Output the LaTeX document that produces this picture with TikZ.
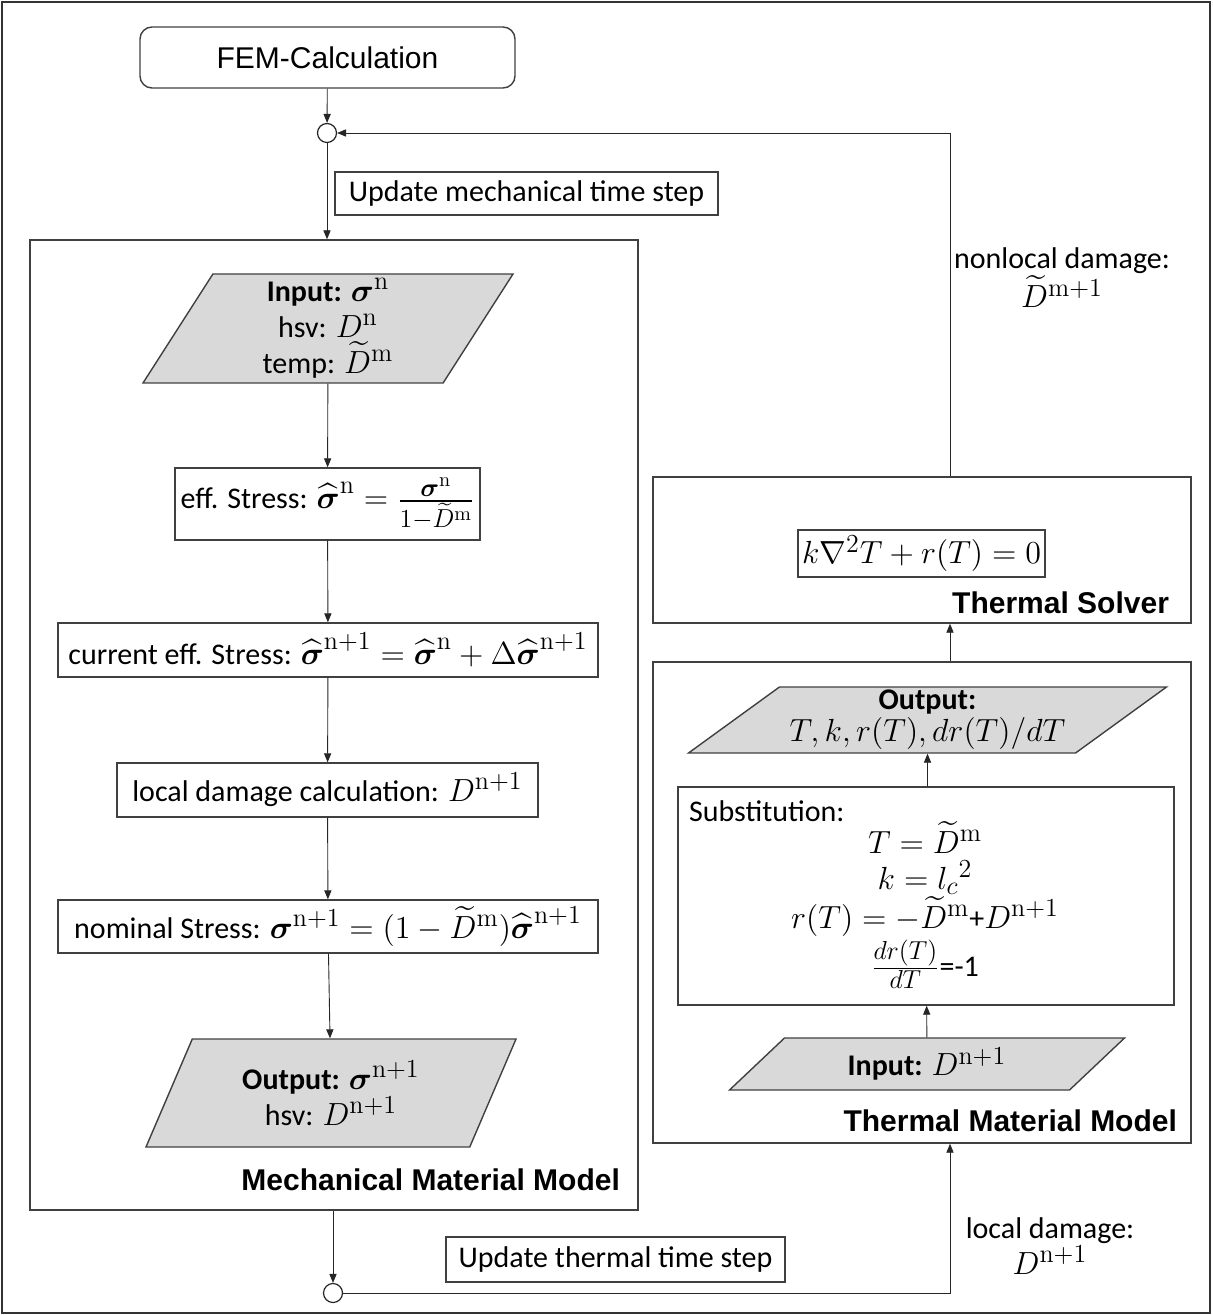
\RequirePackage{fix-cm}
\documentclass[tikz,border=0pt]{standalone}
\usepackage{amsmath}
\usepackage[no-math]{fontspec}
\setmainfont{Carlito}
\newfontfamily\arialfont{Liberation Sans}
\DeclareMathSizes{15}{16}{13}{10}
\usetikzlibrary{arrows.meta,shapes.geometric}

\tikzset{
  box/.style={draw=black!75, line width=0.7pt, inner sep=2pt, align=center},
  para/.style={trapezium, trapezium stretches body, draw=black!75, fill=black!15,
    line width=0.7pt, align=center, inner sep=1pt},
  conn/.style={draw=black!85, line width=0.45pt, -{Triangle[length=4.5pt,width=3.6pt]}},
  hub/.style={circle, draw=black!85, line width=0.6pt, minimum size=9.5pt, inner sep=0pt},
  head/.style={font=\arialfont\bfseries\fontsize{15}{17}\selectfont},
}

\begin{document}
\begin{tikzpicture}[x=0.5pt,y=-0.5pt,font=\fontsize{15}{18}\selectfont]
  \useasboundingbox (0,0) rectangle (1212,1315);
  \draw[black!80, line width=0.8pt] (2,2) rectangle (1210,1313);

  % top of the loop
  \node[box, rounded corners=6pt, minimum width=187.5pt, minimum height=30.5pt,
    font=\arialfont\fontsize{15}{17}\selectfont] (fem) at (327.5,57.5) {FEM-Calculation};
  \node[hub] (c1) at (327,133) {};
  \node[box, minimum width=191.5pt, minimum height=21.5pt] (updmech) at (526.5,193.5) {Update mechanical time step};

  % mechanical material model
  \node[box, minimum width=304pt, minimum height=485pt] (mech) at (334,725) {};
  \node[para, trapezium left angle=56, trapezium right angle=124, minimum width=185pt, minimum height=54.5pt]
    (inmech) at (328,328.5) {\textbf{Input:} $\boldsymbol{\sigma}^{\mathrm{n}}$\\ hsv: $D^{\mathrm{n}}$\\ temp: $\widetilde{D}^{\mathrm{m}}$};
  \node[box, minimum width=152.5pt, minimum height=36pt] (eff) at (327.5,504)
    {eff. Stress: $\widehat{\boldsymbol{\sigma}}^{\mathrm{n}}=\frac{\boldsymbol{\sigma}^{\mathrm{n}}}{1-\widetilde{D}^{\mathrm{m}}}$};
  \node[box, minimum width=270pt, minimum height=27pt] (cur) at (328,650)
    {current eff. Stress: $\widehat{\boldsymbol{\sigma}}^{\mathrm{n+1}}=\widehat{\boldsymbol{\sigma}}^{\mathrm{n}}+\Delta\widehat{\boldsymbol{\sigma}}^{\mathrm{n+1}}$};
  \node[box, minimum width=210.5pt, minimum height=27pt] (loc) at (327.5,790)
    {local damage calculation: $D^{\mathrm{n+1}}$};
  \node[box, minimum width=270pt, minimum height=26.5pt] (nom) at (328,926.5)
    {nominal Stress: $\boldsymbol{\sigma}^{\mathrm{n+1}}=(1-\widetilde{D}^{\mathrm{m}})\widehat{\boldsymbol{\sigma}}^{\mathrm{n+1}}$};
  \node[para, trapezium left angle=56, trapezium right angle=124, minimum width=185pt, minimum height=54pt]
    (outmech) at (331,1093) {\textbf{Output:} $\boldsymbol{\sigma}^{\mathrm{n+1}}$\\ hsv: $D^{\mathrm{n+1}}$};
  \node[head, anchor=east] (mechlbl) at (627,1180) {Mechanical Material Model};

  % bottom of the loop
  \node[hub] (c2) at (333,1293) {};
  \node[box, minimum width=169.5pt, minimum height=22.5pt] (updth) at (615.5,1259.5) {Update thermal time step};
  \node[align=center] (locdmg) at (1050,1246) {local damage:\\ $D^{\mathrm{n+1}}$};

  % thermal side
  \coordinate (rx) at (950,0);
  \node[box, minimum width=269pt, minimum height=73pt] (tsolv) at (922,550) {};
  \node[box, minimum width=123.5pt, minimum height=23.5pt] (eqn) at (921.5,553.5) {$k\nabla^2T+r(T)=0$};
  \node[head, anchor=east] (tsolvlbl) at (1176,603) {Thermal Solver};
  \node[align=center] (nldmg) at (1062,278) {nonlocal damage:\\ $\widetilde{D}^{\mathrm{m+1}}$};

  \node[box, minimum width=269pt, minimum height=240.5pt] (tmat) at (922,902.5) {};
  \node[para, trapezium left angle=35, trapezium right angle=145, minimum width=239pt, minimum height=33pt]
    (outth) at (927.5,720) {\textbf{Output:}\\[-2pt] $T,k,r(T),dr(T)/dT$};
  \node[box, minimum width=248pt, minimum height=109pt] (subst) at (926,896) {};
  \node[anchor=west] (substttl) at (682,811) {Substitution:};
  \node[align=center] (substeq) at (925,905)
    {$T=\widetilde{D}^{\mathrm{m}}$\\ $k={l_c}^2$\\ $r(T)=-\widetilde{D}^{\mathrm{m}}$+$D^{\mathrm{n+1}}$\\[1pt] $\frac{dr(T)}{dT}$=-1};
  \node[para, trapezium left angle=34, trapezium right angle=146, minimum width=197.5pt, minimum height=26pt]
    (inth) at (927,1064) {\textbf{Input:} $D^{\mathrm{n+1}}$};
  \node[head, anchor=east] (tmatlbl) at (1184,1121) {Thermal Material Model};

  % connectors
  \draw[conn] (fem) -- (c1);
  \draw[conn] (c1) -- (c1.south |- mech.north);
  \draw[conn] (inmech) -- (eff);
  \draw[conn] (eff) -- (cur);
  \draw[conn] (cur) -- (loc);
  \draw[conn] (loc) -- (nom);
  \draw[conn] (nom) -- (outmech);
  \draw[conn] (mech.south -| c2) -- (c2);
  \draw[conn] (c2) -| (tmat.south -| rx);
  \draw[conn] (inth) -- (subst);
  \draw[conn] (subst.north -| outth) -- (outth);
  \draw[conn] (tmat.north -| rx) -- (tsolv.south -| rx);
  \draw[conn] (tsolv.north -| rx) |- (c1);
\end{tikzpicture}
\end{document}
